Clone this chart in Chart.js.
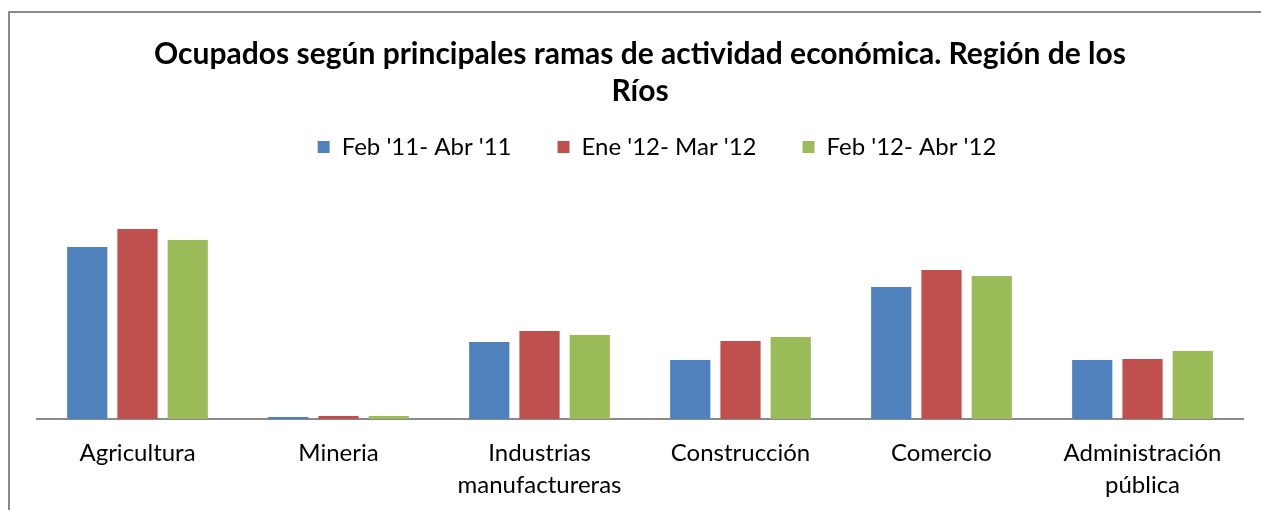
<!DOCTYPE html>
<html>
<head>
<meta charset="utf-8">
<script src="https://cdn.jsdelivr.net/npm/chart.js@4"></script>
<style>
  html, body { margin: 0; padding: 0; background: #fff; overflow: hidden; }
  #wrap { position: relative; width: 1261px; height: 510px; }
  #frame { position: absolute; left: 8px; top: 11px; width: 1400px; height: 700px;
           border: 2px solid #8a8a8a; box-sizing: border-box; }
  #chart { position: absolute; left: 0; top: 0; }
</style>
</head>
<body>
<div id="wrap">
  <div id="frame"></div>
  <canvas id="chart" width="1261" height="510"></canvas>
</div>
<script>
// categorías y series (miles de ocupados)
var categorias = ['Agricultura', 'Mineria', ['Industrias', 'manufactureras'], 'Construcción', 'Comercio', ['Administración', 'pública']];
var feb11Abr11 = [34.4, 0.4, 15.4, 11.8, 26.4, 11.8];
var ene12Mar12 = [38.0, 0.6, 17.6, 15.6, 29.8, 12.0];
var feb12Abr12 = [35.8, 0.6, 16.8, 16.4, 28.6, 13.6];

var fuente = 'Lato, "Open Sans", sans-serif';

// la leyenda del original está algo corrida a la derecha
var moverLeyenda = {
    id: 'moverLeyenda',
    afterLayout: function (chart) {
        if (chart.legend) {
            chart.legend.left += 17;
            chart.legend.right += 17;
        }
    }
};

var ctx = document.getElementById('chart');
new Chart(ctx, {
    type: 'bar',
    data: {
        labels: categorias,
        datasets: [
            { label: "Feb '11- Abr '11", data: feb11Abr11, backgroundColor: '#4F81BD' },
            { label: "Ene '12- Mar '12", data: ene12Mar12, backgroundColor: '#C0504D' },
            { label: "Feb '12- Abr '12", data: feb12Abr12, backgroundColor: '#9BBB59' }
        ]
    },
    plugins: [moverLeyenda],
    options: {
        responsive: false,
        animation: false,
        layout: { padding: { left: 37, right: 18, top: 36, bottom: 0 } },
        datasets: { bar: { categoryPercentage: 0.75, barPercentage: 0.8 } },
        plugins: {
            tooltip: { enabled: false },
            title: {
                display: true,
                text: ['Ocupados según principales ramas de actividad económica. Región de los', 'Ríos'],
                color: '#000',
                font: { family: fuente, size: 30, weight: 'bold', lineHeight: 1.233 },
                padding: { top: 0, bottom: -21 }
            },
            legend: {
                position: 'top',
                labels: {
                    color: '#000',
                    font: { family: fuente, size: 24 },
                    boxWidth: 12,
                    boxHeight: 12,
                    padding: 46
                }
            }
        },
        scales: {
            x: {
                grid: { display: false },
                border: { display: true, color: '#8a8a8a', width: 2 },
                ticks: { color: '#000', font: { family: fuente, size: 24, lineHeight: 1.3 }, padding: 11, maxRotation: 0, autoSkip: false },
                afterFit: function (scale) { scale.height = 91; }
            },
            y: {
                display: false,
                min: 0,
                max: 50
            }
        }
    }
});
</script>
</body>
</html>
